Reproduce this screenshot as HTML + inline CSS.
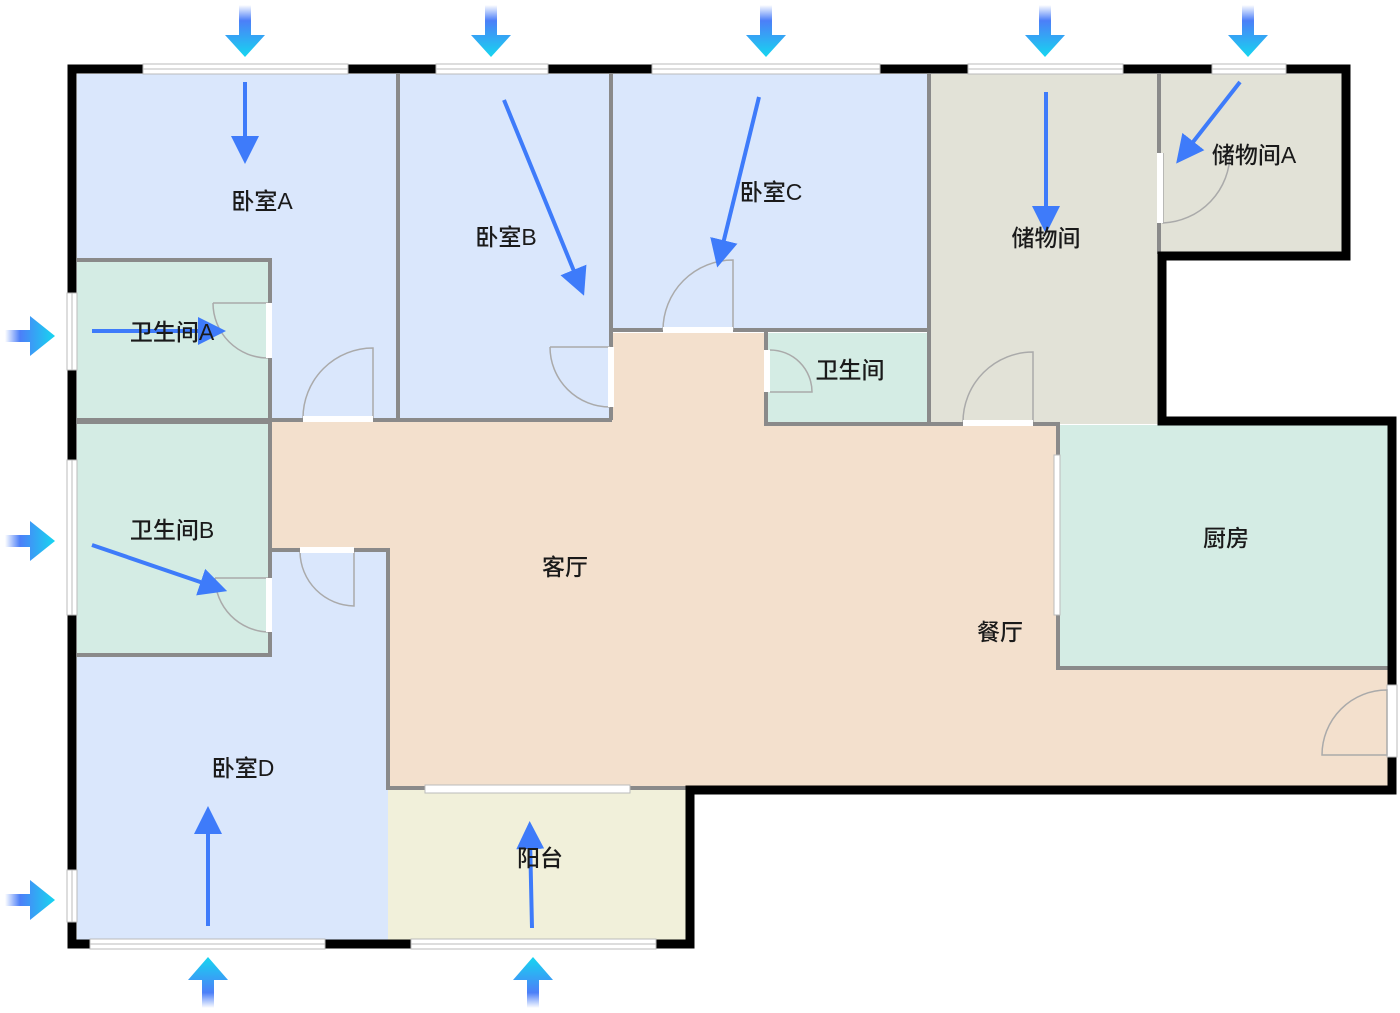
<!DOCTYPE html>
<html><head><meta charset="utf-8"><style>
html,body{margin:0;padding:0;background:#fff;}
svg{display:block}
text{font-family:"Liberation Sans","Noto Sans CJK SC",sans-serif;font-size:23px;fill:#1a1a1a;font-weight:500;}
</style></head><body>
<svg width="1400" height="1013" viewBox="0 0 1400 1013" xmlns="http://www.w3.org/2000/svg">
<defs>
<linearGradient id="gv" x1="0" y1="0" x2="0" y2="1"><stop offset="0" stop-color="#fff"/><stop offset="0.3" stop-color="#4c7ff8"/><stop offset="1" stop-color="#16d6f0"/></linearGradient>
<linearGradient id="gh" x1="0" y1="0" x2="1" y2="0"><stop offset="0" stop-color="#fff"/><stop offset="0.3" stop-color="#4c7ff8"/><stop offset="1" stop-color="#16d6f0"/></linearGradient>
<linearGradient id="gu" x1="0" y1="1" x2="0" y2="0"><stop offset="0" stop-color="#fff"/><stop offset="0.3" stop-color="#4c7ff8"/><stop offset="1" stop-color="#16d6f0"/></linearGradient>
<marker id="ah" markerWidth="7" markerHeight="7" refX="3" refY="3.5" orient="auto" markerUnits="strokeWidth"><path d="M0,0 L7,3.5 L0,7 z" fill="#3e7bfa"/></marker>
</defs>
<polygon points="270,421 612,421 612,333 765,333 765,425 1056,425 1056,668 1388,668 1388,786 388,786 388,550 270,550" fill="#f3e0cd"/>
<rect x="77" y="74" width="320" height="346" fill="#dae7fc"/>
<rect x="400" y="74" width="211" height="346" fill="#dae7fc"/>
<rect x="613" y="74" width="316" height="256" fill="#dae7fc"/>
<rect x="931" y="74" width="228" height="350" fill="#e2e2d7"/>
<rect x="1161" y="74" width="182" height="180" fill="#e2e2d7"/>
<rect x="77" y="260" width="193" height="160" fill="#d4ece4"/>
<rect x="768" y="333" width="160" height="91" fill="#d4ece4"/>
<rect x="1058" y="425" width="332" height="243" fill="#d4ece4"/>
<rect x="77" y="422" width="192" height="234" fill="#d4ece4"/>
<polygon points="77,655 270,655 270,550 388,550 388,940 77,940" fill="#dae7fc"/>
<rect x="388" y="790" width="300" height="152" fill="#f1f0da"/>
<g stroke="#8a8a8a" stroke-width="4" fill="none">
<path d="M398,74 V420"/><path d="M611,74 V420"/><path d="M929,74 V424"/>
<path d="M77,260 H270 V420"/><path d="M77,420 H612"/><path d="M612,330 H929"/>
<path d="M766,330 V424 H1058 V668 H1390"/><path d="M1159,74 V254"/>
<path d="M77,422 H270 V655 H77"/><path d="M270,550 H388 V790"/>
<path d="M388,788 H690"/>
</g>
<path d="M72,69 H1346 V256 H1162 V421 H1392 V790 H690 V944 H72 Z" fill="none" stroke="#000" stroke-width="9"/>
<g fill="#fff" stroke="#bbb" stroke-width="1">
<rect x="143" y="64" width="205" height="10"/><rect x="436" y="64" width="112" height="10"/>
<rect x="652" y="64" width="228" height="10"/><rect x="968" y="64" width="155" height="10"/>
<rect x="1212" y="64" width="74" height="10"/>
<rect x="67" y="293" width="10" height="77"/><rect x="67" y="460" width="10" height="155"/>
<rect x="67" y="870" width="10" height="52"/>
<rect x="90" y="939" width="235" height="10"/><rect x="411" y="939" width="245" height="10"/>
<rect x="1387" y="685" width="10" height="72"/>
<rect x="425" y="785" width="205" height="8"/>
<rect x="1054" y="455" width="6" height="160"/>
</g>
<g stroke="#bbb" stroke-width="1"><path d="M143,69 H348 M436,69 H548 M652,69 H880 M968,69 H1123 M1212,69 H1286 M72,293 V370 M72,460 V615 M72,870 V922 M90,944 H325 M411,944 H656"/></g>
<g fill="none" stroke="#aaa" stroke-width="1.5">
<path d="M303,418 A70,70 0 0 1 373,348 V418"/>
<path d="M213,303 H268 M213,303 A55,55 0 0 0 268,358"/>
<path d="M550,347 H610 M550,347 A60,60 0 0 0 610,407"/>
<path d="M663,330 A70,70 0 0 1 733,260 V330"/>
<path d="M770,350 A42,42 0 0 1 812,392 H770"/>
<path d="M963,422 A70,70 0 0 1 1033,352 V422"/>
<path d="M1163,153 V223 A70,70 0 0 0 1230,153"/>
<path d="M300,552 A55,55 0 0 0 354,606 V552"/>
<path d="M215,578 H268 M215,578 A55,55 0 0 0 268,632"/>
<path d="M1322,755 A65,65 0 0 1 1387,690 V755 Z"/>
</g>
<g fill="#fff"><rect x="303" y="416" width="70" height="6"/><rect x="663" y="327" width="70" height="6"/><rect x="963" y="420" width="70" height="6"/><rect x="266" y="303" width="6" height="55"/><rect x="608" y="347" width="6" height="60"/><rect x="764" y="350" width="6" height="42"/><rect x="1157" y="153" width="6" height="70"/><rect x="300" y="547" width="54" height="6"/><rect x="266" y="578" width="6" height="54"/></g>
<g fill="url(#gv)">
<path d="M239,5 H251 V35 H265 L245,57 L225,35 H239 Z"/>
<path d="M485,5 H497 V35 H511 L491,57 L471,35 H485 Z"/>
<path d="M760,5 H772 V35 H786 L766,57 L746,35 H760 Z"/>
<path d="M1039,5 H1051 V35 H1065 L1045,57 L1025,35 H1039 Z"/>
<path d="M1242,5 H1254 V35 H1268 L1248,57 L1228,35 H1242 Z"/>
</g>
<g fill="url(#gh)">
<path d="M5,330 H30 V316 L55,336 L30,356 V342 H5 Z"/>
<path d="M5,535 H30 V521 L55,541 L30,561 V547 H5 Z"/>
<path d="M5,894 H30 V880 L55,900 L30,920 V906 H5 Z"/>
</g>
<g fill="url(#gu)">
<path d="M202,1008 H214 V980 H228 L208,957 L188,980 H202 Z"/>
<path d="M527,1008 H539 V980 H553 L533,957 L513,980 H527 Z"/>
</g>
<g stroke="#3e7bfa" stroke-width="4" marker-end="url(#ah)">
<line x1="245" y1="82" x2="245" y2="148"/>
<line x1="504" y1="100" x2="578" y2="281"/>
<line x1="759" y1="97" x2="721" y2="252"/>
<line x1="1046" y1="92" x2="1046" y2="218"/>
<line x1="1240" y1="82" x2="1186" y2="151"/>
<line x1="92" y1="331" x2="210" y2="331"/>
<line x1="92" y1="545" x2="212" y2="586"/>
<line x1="208" y1="926" x2="208" y2="822"/>
<line x1="532" y1="928" x2="530" y2="837"/>
</g>
<g text-anchor="middle">
<text x="262" y="209">卧室A</text>
<text x="506" y="245">卧室B</text>
<text x="771" y="200">卧室C</text>
<text x="1046" y="246">储物间</text>
<text x="1254" y="163">储物间A</text>
<text x="172" y="340">卫生间A</text>
<text x="850" y="378">卫生间</text>
<text x="172" y="538">卫生间B</text>
<text x="565" y="575">客厅</text>
<text x="1000" y="640">餐厅</text>
<text x="1226" y="546">厨房</text>
<text x="243" y="776">卧室D</text>
<text x="540" y="866">阳台</text>
</g>
</svg>
</body></html>
